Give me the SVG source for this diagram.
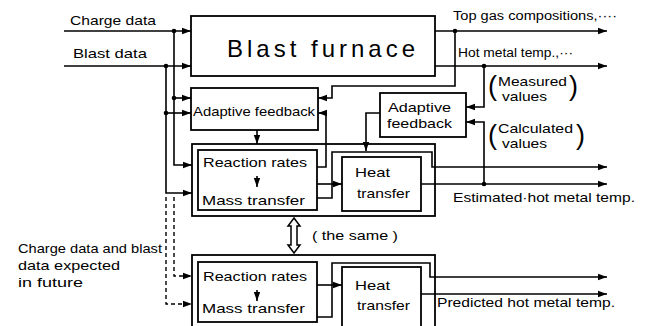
<svg xmlns="http://www.w3.org/2000/svg" width="651" height="326" viewBox="0 0 651 326">
<style>
.box{fill:#fff;stroke:#000;stroke-width:1.8}
.ln{fill:none;stroke:#000;stroke-width:1.6}
.dash{fill:none;stroke:#000;stroke-width:1.4;stroke-dasharray:4,3}
.t{font-family:"Liberation Sans",Arial,sans-serif;font-size:13.5px;fill:#000}
.s{font-size:12px}
.big{font-size:24px}
.par{font-family:"Liberation Sans",Arial,sans-serif;font-size:27px;fill:#000}
.dot{fill:#000}
</style>
<defs>
<marker id="ah" markerUnits="userSpaceOnUse" markerWidth="9" markerHeight="8" viewBox="0 0 9 8" refX="9" refY="4" orient="auto">
<path d="M0,0.8 L9,4 L0,7.2 z" fill="#000"/>
</marker>
</defs>
<rect width="651" height="326" fill="#fff"/>

<g id="blast-furnace">
<rect class="box" x="191" y="16" width="244" height="60"/>
<text class="t big" x="227" y="57" textLength="188" lengthAdjust="spacing">Blast furnace</text>
</g>

<g id="adaptive-feedback-left">
<rect class="box" x="191" y="88" width="127" height="42"/>
<text class="t" x="193" y="116" textLength="122" lengthAdjust="spacingAndGlyphs">Adaptive feedback</text>
</g>

<g id="adaptive-feedback-right">
<rect class="box" x="380" y="93" width="86" height="44"/>
<text class="t" x="388" y="112" textLength="63" lengthAdjust="spacingAndGlyphs">Adaptive</text>
<text class="t" x="387" y="128" textLength="65" lengthAdjust="spacingAndGlyphs">feedback</text>
</g>

<g id="model-upper">
<rect class="box" x="192" y="144" width="243" height="72"/>
<rect class="box" x="198" y="150" width="119" height="60"/>
<rect class="box" x="342" y="157" width="79" height="54"/>
<text class="t" x="203" y="167" textLength="104" lengthAdjust="spacingAndGlyphs">Reaction rates</text>
<text class="t" x="202" y="205" textLength="103" lengthAdjust="spacingAndGlyphs">Mass transfer</text>
<text class="t" x="355" y="177" textLength="35" lengthAdjust="spacingAndGlyphs">Heat</text>
<text class="t" x="357" y="198" textLength="53" lengthAdjust="spacingAndGlyphs">transfer</text>
</g>

<g id="model-lower">
<rect class="box" x="192" y="255" width="243" height="80"/>
<rect class="box" x="198" y="262" width="119" height="60"/>
<rect class="box" x="342" y="267" width="79" height="64"/>
<text class="t" x="203" y="281" textLength="104" lengthAdjust="spacingAndGlyphs">Reaction rates</text>
<text class="t" x="202" y="313" textLength="103" lengthAdjust="spacingAndGlyphs">Mass transfer</text>
<text class="t" x="355" y="290" textLength="35" lengthAdjust="spacingAndGlyphs">Heat</text>
<text class="t" x="357" y="310" textLength="53" lengthAdjust="spacingAndGlyphs">transfer</text>
</g>

<g id="connectors">
<!-- inputs -->
<path class="ln" d="M64,31 H191" marker-end="url(#ah)"/>
<path class="ln" d="M64,66 H191" marker-end="url(#ah)"/>
<path class="ln" d="M174,31 V165 H192" marker-end="url(#ah)"/>
<path class="ln" d="M174,98 H191" marker-end="url(#ah)"/>
<path class="ln" d="M166,66 V193 H192" marker-end="url(#ah)"/>
<path class="ln" d="M166,113 H191" marker-end="url(#ah)"/>
<circle class="dot" cx="174" cy="31" r="2.3"/>
<circle class="dot" cx="174" cy="98" r="2.3"/>
<circle class="dot" cx="166" cy="66" r="2.3"/>
<circle class="dot" cx="166" cy="113" r="2.3"/>
<!-- future inputs -->
<path class="dash" d="M174,197 V276 H192" marker-end="url(#ah)"/>
<path class="dash" d="M166,197 V304 H192" marker-end="url(#ah)"/>
<!-- furnace outputs -->
<path class="ln" d="M435,31 H607" marker-end="url(#ah)"/>
<path class="ln" d="M435,66 H607" marker-end="url(#ah)"/>
<circle class="dot" cx="455" cy="31" r="2.3"/>
<circle class="dot" cx="484" cy="66" r="2.3"/>
<path class="ln" d="M455,31 V86 H332 V98 H318" marker-end="url(#ah)"/>
<path class="ln" d="M484,66 V107 H466" marker-end="url(#ah)"/>
<path class="ln" d="M484,184 V122 H466" marker-end="url(#ah)"/>
<!-- adaptive feedback to model -->
<path class="ln" d="M257,130 V144" marker-end="url(#ah)"/>
<path class="ln" d="M380,113 H366 V151" marker-end="url(#ah)"/>
<!-- upper model internals -->
<path class="ln" d="M317,167 H326 V113 H318" marker-end="url(#ah)"/>
<path class="ln" d="M317,184 H342" marker-end="url(#ah)"/>
<path class="ln" d="M317,198 H332 V152 H432 V167 H607" marker-end="url(#ah)"/>
<path class="ln" d="M421,184 H607" marker-end="url(#ah)"/>
<circle class="dot" cx="484" cy="184" r="2.3"/>
<path class="ln" d="M257,176 V187" marker-end="url(#ah)"/>
<!-- lower model internals -->
<path class="ln" d="M317,285 H342" marker-end="url(#ah)"/>
<path class="ln" d="M317,317 H332 V263 H430 V277 H607" marker-end="url(#ah)"/>
<path class="ln" d="M421,294 H607" marker-end="url(#ah)"/>
<path class="ln" d="M257,290 V301" marker-end="url(#ah)"/>
<!-- same double arrow -->
<polygon points="294,218 300,226 297,226 297,245 300,245 294,253 288,245 291,245 291,226 288,226" fill="#fff" stroke="#000" stroke-width="1.5"/>
</g>

<g id="labels">
<text class="t" x="70" y="25" textLength="86" lengthAdjust="spacingAndGlyphs">Charge data</text>
<text class="t" x="73" y="58" textLength="74" lengthAdjust="spacingAndGlyphs">Blast data</text>
<text class="t s" x="453" y="20" textLength="164" lengthAdjust="spacingAndGlyphs">Top gas compositions,····</text>
<text class="t s" x="458" y="57" textLength="115" lengthAdjust="spacingAndGlyphs">Hot metal temp.,···</text>
<text class="par" x="488" y="95">(</text>
<text class="t" x="498" y="86" textLength="69" lengthAdjust="spacingAndGlyphs">Measured</text>
<text class="t" x="502" y="101" textLength="45" lengthAdjust="spacingAndGlyphs">values</text>
<text class="par" x="569" y="95">)</text>
<text class="par" x="488" y="144">(</text>
<text class="t" x="498" y="133" textLength="75" lengthAdjust="spacingAndGlyphs">Calculated</text>
<text class="t" x="502" y="148" textLength="45" lengthAdjust="spacingAndGlyphs">values</text>
<text class="par" x="576" y="144">)</text>
<text class="t" x="453" y="202" textLength="182" lengthAdjust="spacingAndGlyphs">Estimated·hot metal temp.</text>
<text class="t" x="312" y="240" textLength="86" lengthAdjust="spacingAndGlyphs">( the same )</text>
<text class="t" x="437" y="307" textLength="178" lengthAdjust="spacingAndGlyphs">Predicted hot metal temp.</text>
<text class="t" x="18" y="253" textLength="144" lengthAdjust="spacingAndGlyphs">Charge data and blast</text>
<text class="t" x="18" y="270" textLength="102" lengthAdjust="spacingAndGlyphs">data expected</text>
<text class="t" x="18" y="287" textLength="65" lengthAdjust="spacingAndGlyphs">in future</text>
</g>
</svg>
